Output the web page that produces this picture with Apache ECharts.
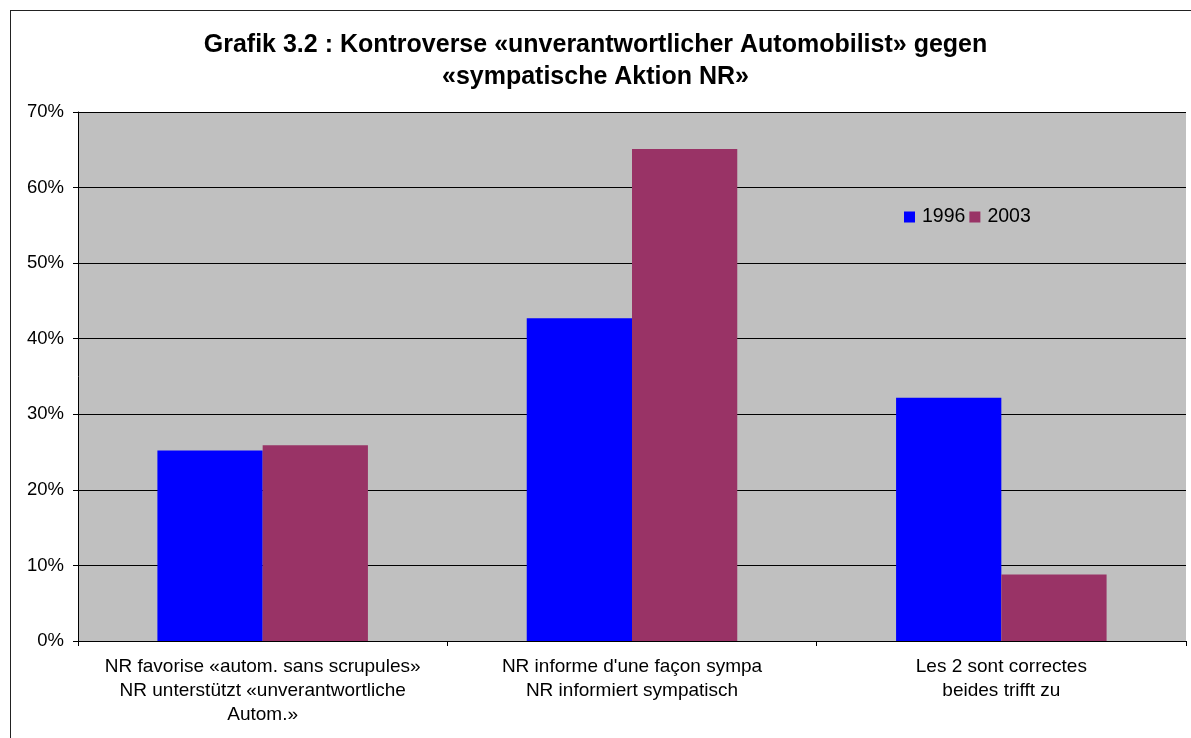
<!DOCTYPE html>
<html>
<head>
<meta charset="utf-8">
<script src="https://cdn.jsdelivr.net/npm/echarts@6/dist/echarts.min.js"></script>
<style>
  html, body { margin: 0; padding: 0; background: #fff; overflow: hidden; }
  #frame { position: absolute; left: 10px; top: 10px; width: 1200px; height: 760px; border: 1.5px solid #222; }
  #chart { position: absolute; left: 0; top: 0; width: 1191px; height: 738px; }
</style>
</head>
<body>
<div id="frame"></div>
<div id="chart"></div>
<script>
// Kategorien und Werte (in %)
var categories = [
  'NR favorise «autom. sans scrupules»\nNR unterstützt «unverantwortliche\nAutom.»',
  'NR informe d\'une façon sympa\nNR informiert sympatisch',
  'Les 2 sont correctes\nbeides trifft zu'
]
var values1996 = [25.2, 42.7, 32.2]
var values2003 = [25.9, 65.1, 8.8]
var yTicks = [0, 10, 20, 30, 40, 50, 60, 70]

var myChart = echarts.init(document.getElementById('chart'))
var option = {
  animation: false,
  textStyle: { fontFamily: 'Liberation Sans, Arial, sans-serif' },
  title: {
    text: 'Grafik 3.2 : Kontroverse «unverantwortlicher Automobilist» gegen\n«sympatische Aktion NR»',
    left: 'center',
    top: 24,
    textStyle: { fontSize: 25, fontWeight: 'bold', color: '#000', lineHeight: 32 }
  },
  legend: {
    left: 899,
    top: 202,
    itemWidth: 11,
    itemHeight: 11,
    itemGap: 4,
    icon: 'rect',
    textStyle: { fontSize: 19.5, color: '#000', padding: [0, 0, 0, 2] },
    data: ['1996', '2003']
  },
  grid: {
    left: 78,
    right: 5,
    top: 112,
    bottom: 97,
    show: true,
    backgroundColor: '#c0c0c0',
    borderWidth: 0
  },
  xAxis: {
    type: 'category',
    data: categories,
    axisLine: { lineStyle: { color: '#000', width: 1 } },
    axisTick: { show: true, length: 5, lineStyle: { color: '#000' } },
    axisLabel: { fontSize: 19, color: '#000', lineHeight: 24, margin: 14, interval: 0 }
  },
  yAxis: {
    type: 'value',
    min: yTicks[0],
    max: yTicks[yTicks.length - 1],
    interval: 10,
    axisLine: { show: true, lineStyle: { color: '#000', width: 1 } },
    axisTick: { show: true, length: 5, lineStyle: { color: '#000' } },
    axisLabel: { fontSize: 18.5, color: '#000', margin: 14, formatter: '{value}%' },
    splitLine: { show: true, lineStyle: { color: '#000', width: 1 } }
  },
  series: [
    {
      name: '1996',
      type: 'bar',
      data: values1996,
      itemStyle: { color: '#0000ff' },
      barGap: '0%',
      barCategoryGap: '43%'
    },
    {
      name: '2003',
      type: 'bar',
      data: values2003,
      itemStyle: { color: '#993366' }
    }
  ]
}
myChart.setOption(option)
window.addEventListener('resize', () => { myChart.resize() })
</script>
</body>
</html>
